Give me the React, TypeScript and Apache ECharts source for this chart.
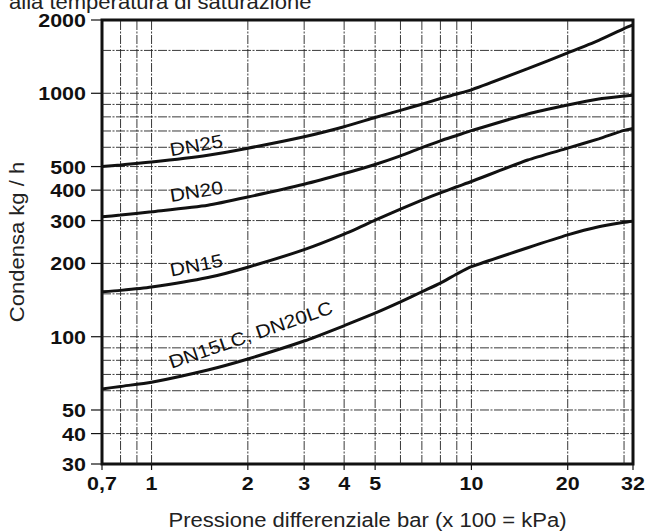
import React, { useEffect, useRef } from "react";
import * as echarts from "echarts";

// Axis bounds
const X_MIN = 0.7;
const X_MAX = 32;
const Y_MIN = 30;
const Y_MAX = 2000;

// Differential pressure (bar) sampled along the curves
const pressure = [0.7, 0.8, 1, 1.5, 2, 3, 4, 5, 6, 7, 8, 9, 10, 15, 20, 25, 30, 32];
// Condensate (kg/h) per valve size
const dn25 = [500, 508, 522, 557, 595, 663, 729, 795, 851, 902, 952, 993, 1033, 1262, 1465, 1650, 1845, 1910];
const dn20 = [311, 316, 326, 347, 375, 423, 468, 510, 553, 598, 638, 671, 702, 822, 895, 948, 975, 982];
const dn15 = [153, 155, 160, 175, 193, 228, 264, 301, 334, 364, 390, 413, 434, 532, 595, 650, 704, 717];
const dn15lc = [61, 62.5, 65, 73, 81, 96, 111, 125, 139, 153, 166, 181, 194, 232, 262, 283, 295, 298];

const curveNames = ["DN25", "DN20", "DN15", "DN15LC, DN20LC"];
const curveValues = [dn25, dn20, dn15, dn15lc];

// Tick labels
const xTickValues = [0.7, 1, 2, 3, 4, 5, 10, 20, 32];
const xTickLabels = ["0,7", "1", "2", "3", "4", "5", "10", "20", "32"];
const yTickValues = [30, 40, 50, 100, 200, 300, 400, 500, 1000, 2000];
const yTickLabels = ["30", "40", "50", "100", "200", "300", "400", "500", "1000", "2000"];

// Grid lines
const xGridValues = [0.8, 0.9, 1, 2, 3, 4, 5, 6, 7, 8, 9, 10, 20, 30];
const yGridValues = [40, 50, 60, 70, 80, 90, 100, 150, 200, 300, 400, 500, 600, 700, 800, 900, 1000, 1500];

// Curve label anchors (data coordinates) and angles (degrees)
const curveLabelAt = [
  [1.38, 612],
  [1.38, 396],
  [1.38, 197],
  [2.04, 102],
];
const curveLabelAngle = [10, 9, 11, 19];

const TITLE = "alla temperatura di saturazione";
const X_NAME = "Pressione differenziale bar (x 100 = kPa)";
const Y_NAME = "Condensa kg / h";

const FONT = "'Liberation Sans', Arial, Helvetica, sans-serif";
const STRETCH = 1.13;
const INK = "#111";

export default function App() {
  const ref = useRef<HTMLDivElement>(null);

  useEffect(() => {
    if (!ref.current) return;
    const chart = echarts.init(ref.current, undefined, { renderer: "svg" });

    const gridStyle = { stroke: "#222", lineWidth: 0.9, lineDash: [9, 1.5, 2, 1.5] };

    const option: any = {
      animation: false,
      backgroundColor: "#fff",
      grid: {
        left: 102,
        top: 20,
        width: 531,
        height: 444,
        show: true,
        borderColor: INK,
        borderWidth: 3,
        backgroundColor: "transparent",
      },
      xAxis: {
        type: "log",
        logBase: 10,
        min: X_MIN,
        max: X_MAX,
        axisLine: { show: false },
        axisTick: { show: false },
        axisLabel: { show: false },
        splitLine: { show: false },
      },
      yAxis: {
        type: "log",
        logBase: 10,
        min: Y_MIN,
        max: Y_MAX,
        axisLine: { show: false },
        axisTick: { show: false },
        axisLabel: { show: false },
        splitLine: { show: false },
      },
      graphic: [
        {
          type: "text",
          x: 9,
          y: 2,
          scaleX: STRETCH,
          style: {
            text: TITLE,
            fontFamily: FONT,
            fontSize: 19.5,
            fill: "#222",
            align: "left",
            verticalAlign: "middle",
          },
        },
        {
          type: "text",
          x: 367.5,
          y: 520,
          scaleX: STRETCH,
          style: {
            text: X_NAME,
            fontFamily: FONT,
            fontSize: 19.5,
            fill: "#222",
            align: "center",
            verticalAlign: "middle",
          },
        },
        {
          type: "text",
          x: 17,
          y: 242,
          rotation: Math.PI / 2,
          scaleX: STRETCH,
          style: {
            text: Y_NAME,
            fontFamily: FONT,
            fontSize: 19.5,
            fill: "#222",
            align: "center",
            verticalAlign: "middle",
          },
        },
      ],
      series: [
        // vertical grid lines
        {
          type: "custom",
          coordinateSystem: "cartesian2d",
          silent: true,
          clip: false,
          z: 1,
          data: xGridValues.map((v) => [v, Y_MIN]),
          renderItem: (params: any, api: any) => {
            const v = api.value(0);
            const p0 = api.coord([v, Y_MIN]);
            const p1 = api.coord([v, Y_MAX]);
            return {
              type: "line",
              shape: { x1: p0[0], y1: p0[1], x2: p1[0], y2: p1[1] },
              style: gridStyle,
            };
          },
        },
        // horizontal grid lines
        {
          type: "custom",
          coordinateSystem: "cartesian2d",
          silent: true,
          clip: false,
          z: 1,
          data: yGridValues.map((v) => [X_MIN, v]),
          renderItem: (params: any, api: any) => {
            const v = api.value(1);
            const p0 = api.coord([X_MIN, v]);
            const p1 = api.coord([X_MAX, v]);
            return {
              type: "line",
              shape: { x1: p0[0], y1: p0[1], x2: p1[0], y2: p1[1] },
              style: gridStyle,
            };
          },
        },
        // x ticks + labels
        {
          type: "custom",
          coordinateSystem: "cartesian2d",
          silent: true,
          clip: false,
          z: 3,
          data: xTickValues.map((v) => [v, Y_MIN]),
          renderItem: (params: any, api: any) => {
            const p = api.coord([api.value(0), Y_MIN]);
            return {
              type: "group",
              children: [
                {
                  type: "line",
                  shape: { x1: p[0], y1: p[1], x2: p[0], y2: p[1] + 6 },
                  style: { stroke: INK, lineWidth: 1.2 },
                },
                {
                  type: "text",
                  x: p[0],
                  y: p[1] + 19.5,
                  scaleX: STRETCH,
                  style: {
                    text: xTickLabels[params.dataIndex],
                    fontFamily: FONT,
                    fontWeight: "bold",
                    fontSize: 19,
                    fill: INK,
                    align: "center",
                    verticalAlign: "middle",
                  },
                },
              ],
            };
          },
        },
        // y ticks + labels
        {
          type: "custom",
          coordinateSystem: "cartesian2d",
          silent: true,
          clip: false,
          z: 3,
          data: yTickValues.map((v) => [X_MIN, v]),
          renderItem: (params: any, api: any) => {
            const p = api.coord([X_MIN, api.value(1)]);
            return {
              type: "group",
              children: [
                {
                  type: "line",
                  shape: { x1: p[0] - 11, y1: p[1], x2: p[0], y2: p[1] },
                  style: { stroke: INK, lineWidth: 1.2 },
                },
                {
                  type: "text",
                  x: p[0] - 16,
                  y: p[1] + 0.5,
                  scaleX: STRETCH,
                  style: {
                    text: yTickLabels[params.dataIndex],
                    fontFamily: FONT,
                    fontWeight: "bold",
                    fontSize: 19,
                    fill: INK,
                    align: "right",
                    verticalAlign: "middle",
                  },
                },
              ],
            };
          },
        },
        // curves
        ...curveValues.map((vals, k) => ({
          type: "line",
          name: curveNames[k],
          data: pressure.map((x, i) => [x, vals[i]]),
          showSymbol: false,
          smooth: 0.2,
          silent: true,
          z: 4,
          lineStyle: { color: INK, width: 3 },
        })),
        // curve labels
        {
          type: "custom",
          coordinateSystem: "cartesian2d",
          silent: true,
          clip: false,
          z: 5,
          data: curveLabelAt,
          renderItem: (params: any, api: any) => {
            const p = api.coord([api.value(0), api.value(1)]);
            return {
              type: "text",
              x: p[0],
              y: p[1],
              rotation: (curveLabelAngle[params.dataIndex] * Math.PI) / 180,
              scaleX: STRETCH,
              style: {
                text: curveNames[params.dataIndex],
                fontFamily: FONT,
                fontSize: 18.5,
                fill: INK,
                align: "center",
                verticalAlign: "middle",
              },
            };
          },
        },
      ],
    };

    chart.setOption(option);
    return () => chart.dispose();
  }, []);

  return (
    <div
      ref={ref}
      style={{ position: "fixed", left: 0, top: 0, width: 646, height: 531 }}
    />
  );
}
